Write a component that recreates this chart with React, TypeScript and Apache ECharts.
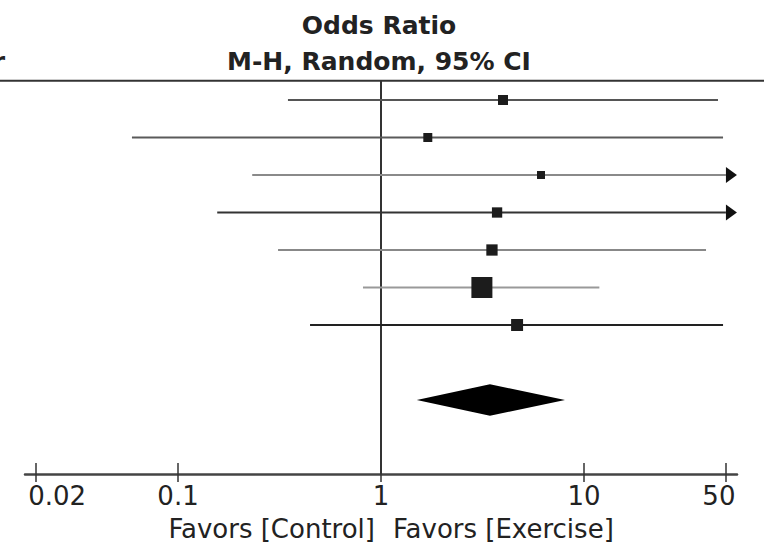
import React, { useEffect, useRef } from "react";
import * as echarts from "echarts";

// ---- data ----
const studyOR = [3.99, 1.7, 6.14, 3.73, 3.52, 3.14, 4.68];
const ciLower = [0.348, 0.0593, 0.232, 0.156, 0.311, 0.815, 0.447];
const ciUpper = [45.7, 48.4, 163, 89, 39.9, 11.9, 48.4];
const weights = [9.4, 7.6, 6.0, 10.0, 12.0, 41.5, 13.5];
const pooledOR = 3.44;
const pooledLower = 1.5;
const pooledUpper = 8.06;
const tickValues = [0.02, 0.1, 1, 10, 50];
const tickLabels = ["0.02", "0.1", "1", "10", "50"];

// ---- styling ----
const lineShades = ["#555", "#5a5a5a", "#8a8a8a", "#333", "#888", "#999", "#222"];
const FONT = "DejaVu Sans";
const AXIS_MIN = 0.01763;
const AXIS_MAX = 56.7;
const DISPLAY_MAX = 50;
const POOLED_ROW = 8;

// the x axis is a value axis on log10(odds ratio)
const L = (v: number) => Math.log10(v);
const logTicks = tickValues.map(L);

function labelFor(v: number): string {
  let best = 0;
  for (let i = 1; i < logTicks.length; i++) {
    if (Math.abs(logTicks[i] - v) < Math.abs(logTicks[best] - v)) best = i;
  }
  const t = tickLabels[best];
  if (best === 0) return "{first|" + t + "}";
  if (best === tickLabels.length - 1) return "{last|" + t + "}";
  return "{n|" + t + "}";
}

export default function App() {
  const ref = useRef<HTMLDivElement>(null);

  useEffect(() => {
    if (!ref.current) return;
    const chart = echarts.init(ref.current, null, { renderer: "svg" });

    const ciData = studyOR.map((_, i) => [L(ciLower[i]), L(ciUpper[i]), i, i]);
    const sqData = studyOR.map((v, i) => [L(v), i, weights[i]]);

    const baseAxis = {
      type: "value",
      min: L(AXIS_MIN),
      max: L(AXIS_MAX),
      position: "bottom",
      splitLine: { show: false },
    };

    const option: any = {
      animation: false,
      backgroundColor: "#fff",
      grid: { left: 25, right: 35, top: 80, bottom: 71, containLabel: false },
      xAxis: [
        {
          ...baseAxis,
          axisLine: { show: true, onZero: false, lineStyle: { color: "#444", width: 2.5 } },
          axisTick: {
            show: true,
            customValues: logTicks,
            inside: false,
            length: 8,
            lineStyle: { color: "#333", width: 1.5 },
          },
          axisLabel: {
            show: true,
            customValues: logTicks,
            margin: 9,
            color: "#222",
            fontSize: 26,
            fontFamily: FONT,
            formatter: (v: number) => labelFor(v),
            rich: {
              first: { fontSize: 26, fontFamily: FONT, color: "#222", padding: [0, 0, 0, 42] },
              last: { fontSize: 26, fontFamily: FONT, color: "#222", padding: [0, 14, 0, 0] },
              n: { fontSize: 26, fontFamily: FONT, color: "#222" },
            },
          },
        },
        {
          ...baseAxis,
          axisLine: { show: false, onZero: false },
          axisTick: {
            show: true,
            customValues: logTicks,
            inside: true,
            length: 11,
            lineStyle: { color: "#333", width: 1.5 },
          },
          axisLabel: { show: false },
        },
      ],
      yAxis: {
        type: "value",
        inverse: true,
        min: -0.533,
        max: 9.973,
        show: false,
      },
      graphic: [
        {
          type: "line",
          shape: { x1: 0, y1: 80.7, x2: 764, y2: 80.7 },
          style: { stroke: "#333", lineWidth: 2 },
          z: 10,
        },
        {
          type: "text",
          x: 379,
          y: 25,
          style: {
            text: "Odds Ratio",
            fontSize: 25,
            fontWeight: "bold",
            fontFamily: FONT,
            fill: "#222",
            align: "center",
            verticalAlign: "middle",
          },
        },
        {
          type: "text",
          x: 379,
          y: 61,
          style: {
            text: "M-H, Random, 95% CI",
            fontSize: 25,
            fontWeight: "bold",
            fontFamily: FONT,
            fill: "#222",
            align: "center",
            verticalAlign: "middle",
          },
        },
        {
          type: "text",
          x: 5,
          y: 61,
          style: {
            text: "Year",
            fontSize: 25,
            fontWeight: "bold",
            fontFamily: FONT,
            fill: "#222",
            align: "right",
            verticalAlign: "middle",
          },
        },
        {
          type: "text",
          x: 375,
          y: 528.5,
          style: {
            text: "Favors [Control]",
            fontSize: 26,
            fontFamily: FONT,
            fill: "#222",
            align: "right",
            verticalAlign: "middle",
          },
        },
        {
          type: "text",
          x: 393,
          y: 528.5,
          style: {
            text: "Favors [Exercise]",
            fontSize: 26,
            fontFamily: FONT,
            fill: "#222",
            align: "left",
            verticalAlign: "middle",
          },
        },
      ],
      series: [
        {
          type: "custom",
          name: "CI",
          xAxisIndex: 0,
          encode: { x: [0, 1], y: 2 },
          data: ciData,
          renderItem: (_params: any, api: any) => {
            const lo = api.value(0);
            const hi = api.value(1);
            const row = api.value(2);
            const idx = api.value(3);
            const p0 = api.coord([lo, row]);
            const capped = Math.min(hi, L(DISPLAY_MAX));
            const p1 = api.coord([capped, row]);
            const children: any[] = [
              {
                type: "line",
                shape: { x1: p0[0], y1: p0[1], x2: p1[0], y2: p1[1] },
                style: { stroke: lineShades[idx], lineWidth: 2 },
              },
            ];
            if (hi > L(DISPLAY_MAX)) {
              children.push({
                type: "polygon",
                shape: {
                  points: [
                    [p1[0], p1[1] - 8],
                    [p1[0] + 11, p1[1]],
                    [p1[0], p1[1] + 8],
                  ],
                },
                style: { fill: "#111" },
              });
            }
            return { type: "group", children };
          },
          z: 3,
        },
        {
          type: "scatter",
          name: "OR",
          xAxisIndex: 0,
          data: sqData,
          symbol: "rect",
          symbolSize: (val: number[]) => Math.sqrt(val[2]) * 3.26,
          itemStyle: { color: "#1c1c1c", opacity: 1 },
          z: 4,
          markLine: {
            silent: true,
            symbol: ["none", "none"],
            label: { show: false },
            lineStyle: { color: "#333", width: 2, type: "solid" },
            data: [{ xAxis: 0 }],
            z: 2,
          },
        },
        {
          type: "custom",
          name: "Pooled",
          xAxisIndex: 0,
          encode: { x: [0, 1, 2], y: 3 },
          data: [[L(pooledLower), L(pooledOR), L(pooledUpper), POOLED_ROW]],
          renderItem: (_params: any, api: any) => {
            const row = api.value(3);
            const l = api.coord([api.value(0), row]);
            const c = api.coord([api.value(1), row]);
            const r = api.coord([api.value(2), row]);
            const h = 15.7;
            return {
              type: "polygon",
              shape: {
                points: [
                  [l[0], l[1]],
                  [c[0], c[1] - h],
                  [r[0], r[1]],
                  [c[0], c[1] + h],
                ],
              },
              style: { fill: "#000" },
            };
          },
          z: 4,
        },
      ],
    };

    chart.setOption(option);
    return () => chart.dispose();
  }, []);

  return (
    <div
      ref={ref}
      style={{ position: "fixed", left: 0, top: 0, width: 772, height: 545, background: "#fff" }}
    />
  );
}
